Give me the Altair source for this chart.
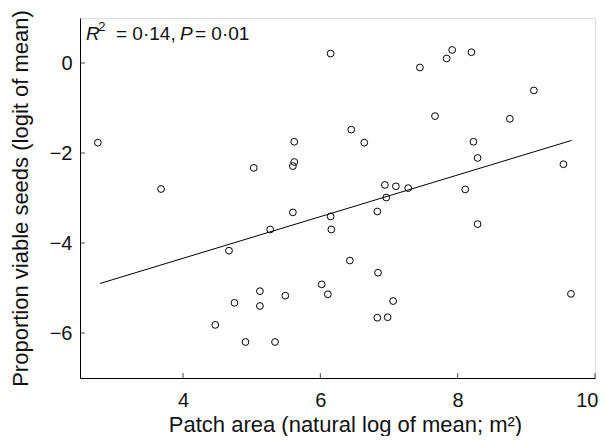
import altair as alt
import pandas as pd

# Observed patches: natural log of mean patch area (m^2) and logit of mean proportion viable seeds
patch_area = [2.76, 3.68, 5.03, 5.62, 5.62, 5.60, 5.60, 6.15, 6.45, 6.64,
              7.45, 7.67, 7.84, 7.92, 8.20, 8.23, 8.29, 8.76, 9.11, 9.54,
              8.11, 6.94, 7.10, 7.28, 6.96, 6.83, 6.15, 5.27, 4.67, 5.12,
              4.75, 5.12, 5.49, 4.47, 4.91, 5.34, 6.16, 8.29, 6.43, 6.84,
              6.02, 6.11, 7.06, 6.83, 6.98, 9.65]
viable_logit = [-1.77, -2.80, -2.33, -1.75, -2.20, -2.29, -3.32, 0.21, -1.48, -1.77,
                -0.10, -1.18, 0.10, 0.29, 0.24, -1.75, -2.11, -1.24, -0.61, -2.25,
                -2.81, -2.71, -2.74, -2.78, -2.99, -3.30, -3.41, -3.70, -4.17, -5.07,
                -5.33, -5.40, -5.17, -5.82, -6.20, -6.20, -3.70, -3.58, -4.39, -4.66,
                -4.92, -5.14, -5.29, -5.66, -5.65, -5.13]

# Fitted regression line end points
fit_x = [2.79, 9.66]
fit_y = [-4.90, -1.72]

x_ticks = [4, 6, 8, 10]
y_ticks = [-6, -4, -2, 0]

FONT = "Liberation Sans"
W, H = 515, 360

pts = pd.DataFrame({"x": patch_area, "y": viable_logit})
fit = pd.DataFrame({"x": fit_x, "y": fit_y})
xt = pd.DataFrame({"v": x_ticks})
yt = pd.DataFrame({"v": y_ticks})

xscale = alt.Scale(domain=[2.5, 10], nice=False, zero=False)
yscale = alt.Scale(domain=[-7, 1], nice=False, zero=False)

xaxis = alt.Axis(values=x_ticks, format="d", ticks=False, grid=False, domainColor="black",
                 labelFlush=True, labelFlushOffset=3,
                 labelFont=FONT, labelFontSize=20, labelColor="#111",
                 labelPadding=12,
                 title="Patch area (natural log of mean; m²)", titleFont=FONT,
                 titleFontSize=22, titleFontWeight="normal", titleColor="#111",
                 titleX=265, titleY=53, titleAnchor="middle", titleAlign="center",
                 titleBaseline="alphabetic")
yaxis = alt.Axis(values=y_ticks, format="d", ticks=False, grid=False, domainColor="black",
                 labelFlush=False, labelFont=FONT, labelFontSize=20, labelColor="#111",
                 labelPadding=8,
                 title="Proportion viable seeds (logit of mean)", titleFont=FONT,
                 titleFontSize=22, titleFontWeight="normal", titleColor="#111",
                 titleX=-53, titleY=180, titleAngle=270, titleAlign="center",
                 titleBaseline="alphabetic")

points = alt.Chart(pts).mark_point(shape="circle", filled=False, color="black",
                                   size=46, strokeWidth=1, opacity=1).encode(
    x=alt.X("x:Q", scale=xscale, axis=xaxis),
    y=alt.Y("y:Q", scale=yscale, axis=yaxis),
)

line = alt.Chart(fit).mark_line(color="black", strokeWidth=1).encode(
    x=alt.X("x:Q", scale=xscale),
    y=alt.Y("y:Q", scale=yscale),
)

xtick_marks = alt.Chart(xt).mark_tick(color="black", size=5, thickness=1, orient="vertical").encode(
    x=alt.X("v:Q", scale=xscale),
    y=alt.value(H - 2.5),
)
ytick_marks = alt.Chart(yt).mark_tick(color="black", size=5, thickness=1, orient="horizontal").encode(
    y=alt.Y("v:Q", scale=yscale),
    x=alt.value(2.5),
)

def label(txt, px, py, size=19, style="normal"):
    return alt.Chart(pd.DataFrame({"t": [txt]})).mark_text(
        font=FONT, fontSize=size, fontStyle=style, align="left", baseline="alphabetic",
        color="#111").encode(text="t:N", x=alt.value(px), y=alt.value(py))

ann = (label("R", 6, 22, style="italic")
       + label("2", 18.3, 13, size=13)
       + label("= 0·14,", 36, 22)
       + label("P", 100, 22, style="italic")
       + label("= 0·01", 115, 22))

chart = alt.layer(points, line, xtick_marks, ytick_marks, ann).properties(
    width=W, height=H,
    autosize=alt.AutoSizeParams(type="none"),
    padding={"left": 72, "top": 10, "right": 3, "bottom": 58},
).configure_view(stroke=None).configure(background="white")

chart.save("out.html", embed_options={"renderer": "svg", "actions": False})
